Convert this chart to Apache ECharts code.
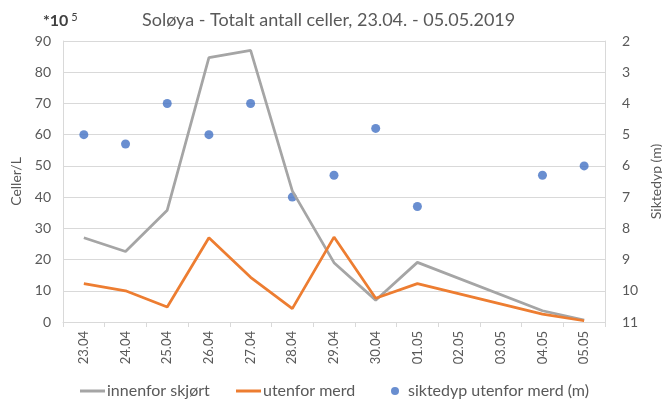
<!DOCTYPE html>
<html>
<head>
<meta charset="utf-8">
<script src="https://cdn.jsdelivr.net/npm/echarts@6/dist/echarts.min.js"></script>
<style>
  html, body { margin: 0; padding: 0; background: #fff; }
  #chart { width: 662px; height: 400px; }
</style>
</head>
<body>
<div id="chart"></div>
<script>
// Dates of sampling
var categories = ['23.04', '24.04', '25.04', '26.04', '27.04', '28.04', '29.04', '30.04', '01.05', '02.05', '03.05', '04.05', '05.05'];
// Cell counts (x 10^5 per litre); no samples on 02.05 and 03.05
var innenforSkjort = [27, 22.6, 35.8, 84.7, 87, 42, 19, 7, 19.1, null, null, 3.6, 0.6];
var utenforMerd = [12.3, 10, 4.8, 27, 14.3, 4.3, 27.2, 7.6, 12.3, null, null, 2.5, 0.4];
// Secchi depth outside the pen (m)
var siktedyp = [5, 5.3, 4, 5, 4, 7, 6.3, 4.8, 7.3, null, null, 6.3, 6];
// Axis ticks
var leftTicks = { min: 0, max: 90, interval: 10 };
var rightTicks = { min: 2, max: 11, interval: 1 };

var textColor = '#595959';
var gridColor = '#d9d9d9';
var fontFamily = 'Lato, "Open Sans", sans-serif';

var chart = echarts.init(document.getElementById('chart'));
chart.setOption({
  animation: false,
  textStyle: { fontFamily: fontFamily },
  title: [
    {
      text: 'Soløya - Totalt antall celler, 23.04. - 05.05.2019',
      left: 137, top: 6,
      textStyle: { fontSize: 18, fontWeight: 'normal', color: textColor, fontFamily: fontFamily }
    },
    {
      text: '{a|*10}{b| 5}',
      left: 38, top: 7,
      textStyle: {
        rich: {
          a: { fontSize: 16, fontWeight: 'bold', color: '#404040', fontFamily: fontFamily },
          b: { fontSize: 11, fontWeight: 'normal', color: '#404040', fontFamily: fontFamily, verticalAlign: 'top', padding: [0, 0, 6, 0] }
        }
      }
    }
  ],
  grid: { left: 63, right: 57, top: 41, bottom: 78, outerBoundsMode: 'none', containLabel: false },
  legend: [
    {
      data: [{ name: 'innenfor skjørt', icon: 'rect' }], left: 75, top: 378,
      itemWidth: 25, itemHeight: 3,
      textStyle: { fontSize: 16, color: textColor, fontFamily: fontFamily, padding: [0, 0, 0, -3] }
    },
    {
      data: [{ name: 'utenfor merd', icon: 'rect' }], left: 231, top: 378,
      itemWidth: 25, itemHeight: 3,
      textStyle: { fontSize: 16, color: textColor, fontFamily: fontFamily, padding: [0, 0, 0, -3] }
    },
    {
      data: ['siktedyp utenfor merd (m)'], left: 386, top: 378,
      itemWidth: 8, itemHeight: 8,
      textStyle: { fontSize: 16, color: textColor, fontFamily: fontFamily, padding: [0, 0, 0, 4] }
    }
  ],
  xAxis: {
    type: 'category',
    data: categories,
    boundaryGap: true,
    axisLine: { lineStyle: { color: gridColor, width: 1 } },
    axisTick: { show: true, length: 5, lineStyle: { color: gridColor } },
    axisLabel: { rotate: 90, fontSize: 13, color: textColor, margin: 9 }
  },
  yAxis: [
    {
      type: 'value', min: leftTicks.min, max: leftTicks.max, interval: leftTicks.interval,
      name: 'Celler/L', nameLocation: 'middle', nameGap: 40, nameRotate: 90,
      nameTextStyle: { fontSize: 14, color: textColor },
      axisLine: { show: true, lineStyle: { color: gridColor } },
      axisTick: { show: false },
      axisLabel: { fontSize: 14, color: textColor, margin: 12 },
      splitLine: { lineStyle: { color: gridColor, width: 1 } }
    },
    {
      type: 'value', inverse: true, min: rightTicks.min, max: rightTicks.max, interval: rightTicks.interval,
      name: 'Siktedyp (m)', nameLocation: 'middle', nameGap: 40, nameRotate: 90,
      nameTextStyle: { fontSize: 14, color: textColor },
      axisLine: { show: true, lineStyle: { color: gridColor } },
      axisTick: { show: false },
      axisLabel: { fontSize: 14, color: textColor, margin: 17 },
      splitLine: { show: false }
    }
  ],
  series: [
    {
      name: 'innenfor skjørt', type: 'line', yAxisIndex: 0,
      data: innenforSkjort, connectNulls: true, symbol: 'none',
      lineStyle: { color: '#a5a5a5', width: 2.75 }, itemStyle: { color: '#a5a5a5' }
    },
    {
      name: 'utenfor merd', type: 'line', yAxisIndex: 0,
      data: utenforMerd, connectNulls: true, symbol: 'none',
      lineStyle: { color: '#ed7d31', width: 2.75 }, itemStyle: { color: '#ed7d31' }
    },
    {
      name: 'siktedyp utenfor merd (m)', type: 'scatter', yAxisIndex: 1,
      data: siktedyp, symbol: 'circle', symbolSize: 9,
      itemStyle: { color: '#4472c4' }
    }
  ]
});
</script>
</body>
</html>
